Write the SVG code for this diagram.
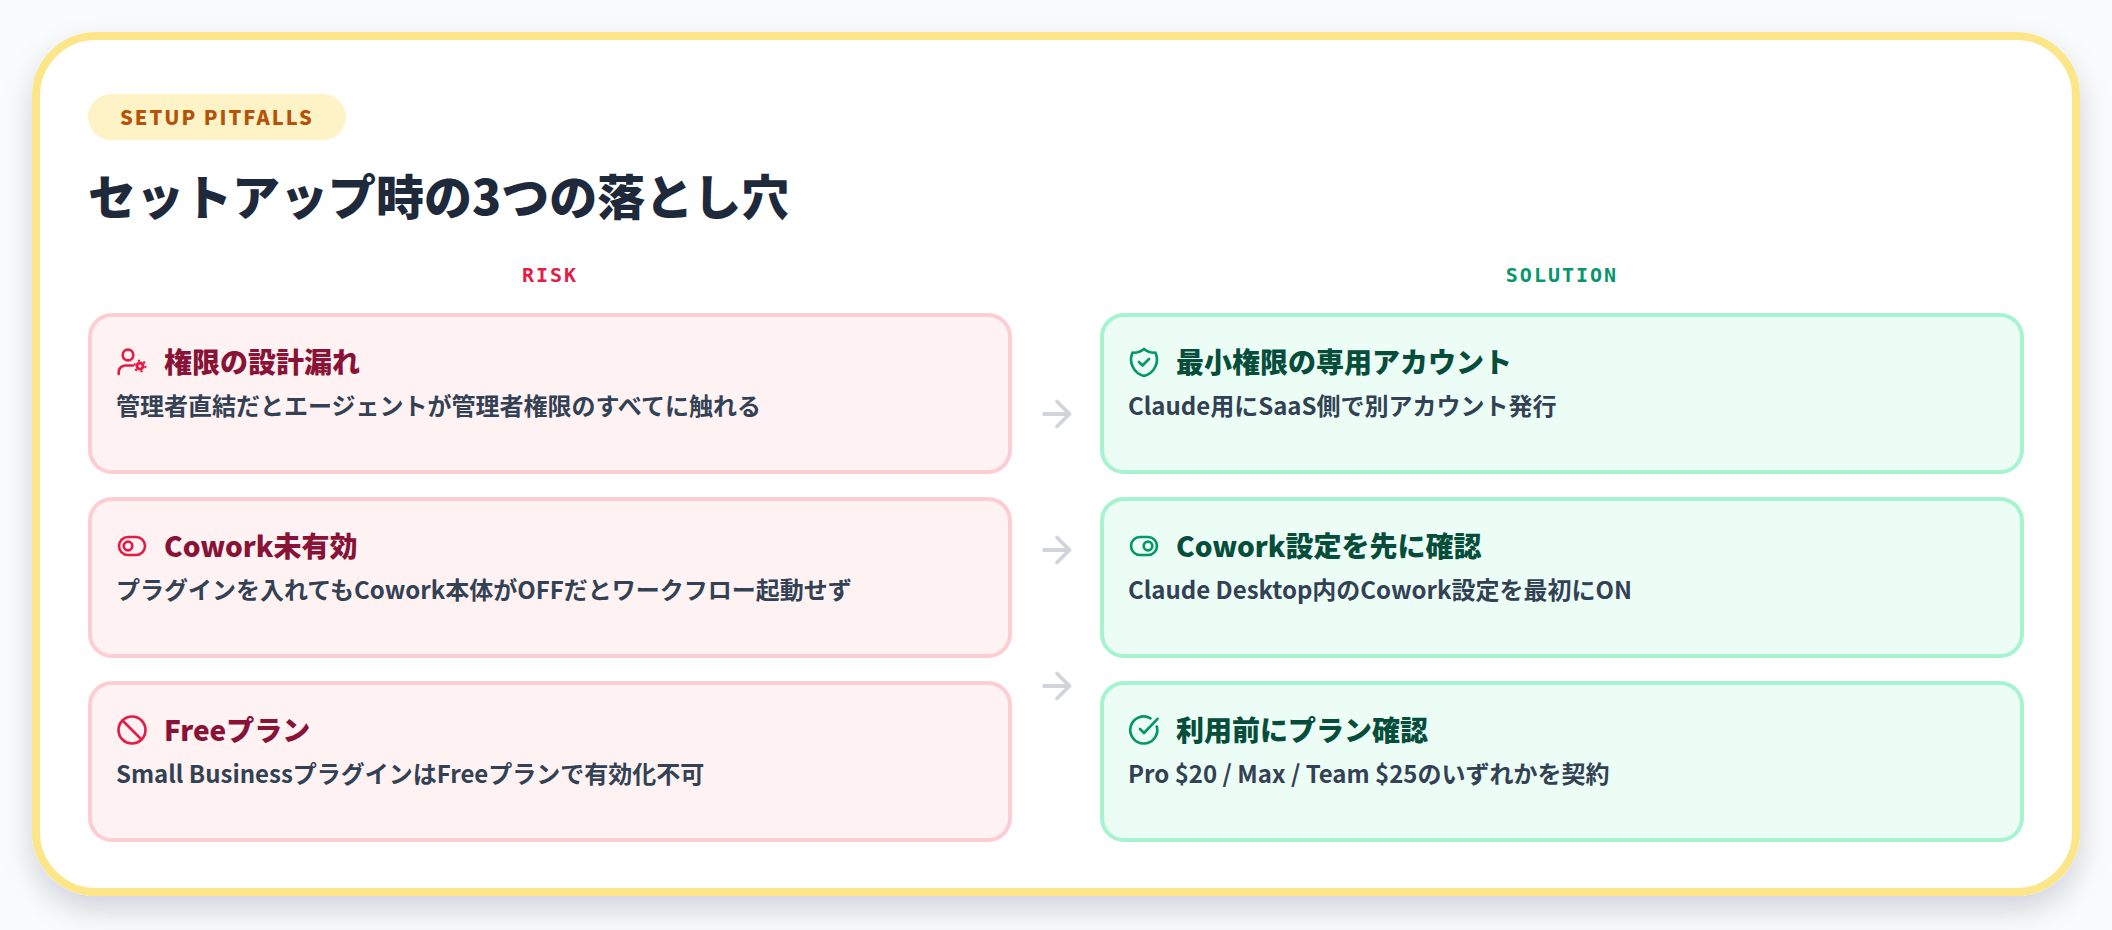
<svg xmlns="http://www.w3.org/2000/svg" width="2112" height="930" viewBox="0 0 2112 930">
<style>
text{font-family:"Noto Sans CJK JP","Noto Sans",sans-serif}
.risk>rect{fill:#fff2f3;stroke:#fecdd3;stroke-width:4}
.sol>rect{fill:#ecfdf5;stroke:#a7f3d0;stroke-width:4}
.risk .t{fill:#881337}
.sol .t{fill:#064e3b}
.t{font-size:28px;font-weight:900}
.d{font-size:24px;font-weight:700;fill:#334155}
.ic{fill:none;stroke-width:2.67;stroke-linecap:round;stroke-linejoin:round}
.risk .ic{stroke:#e11d48}
.sol .ic{stroke:#059669}
.h{font-family:"DejaVu Sans Mono",monospace;font-size:20px;font-weight:700;letter-spacing:2px;text-anchor:middle}
.arr{fill:none;stroke:#d1d5db;stroke-width:3.8;stroke-linecap:round;stroke-linejoin:round}
</style>
<defs>
<filter id="sh" x="-10%" y="-10%" width="120%" height="125%"><feDropShadow dx="0" dy="14" stdDeviation="15" flood-color="#111827" flood-opacity="0.16"/></filter>
</defs>
<rect width="2112" height="930" fill="#fafbfd"/>
<g id="panel">
<rect x="36" y="36" width="2040" height="856" rx="60" fill="#fff" stroke="#fde68a" stroke-width="8" filter="url(#sh)"/>
</g>
<g id="header">
<rect x="88" y="94" width="258" height="46" rx="23" fill="#fef3c7"/>
<text x="120" y="125" font-size="20" font-weight="900" letter-spacing="2" fill="#b45309">SETUP PITFALLS</text>
<text x="88" y="215" font-size="48" font-weight="900" fill="#1e293b">セットアップ時の3つの落とし穴</text>
<text class="h" x="550" y="282" fill="#e11d48">RISK</text>
<text class="h" x="1562" y="282" fill="#059669">SOLUTION</text>
</g>
<g id="connectors">
<path class="arr" d="M1044 414H1069M1057 401.500L1069.500 414L1057 426.500"/>
<path class="arr" d="M1044 550H1069M1057 537.500L1069.500 550L1057 562.500"/>
<path class="arr" d="M1044 686H1069M1057 673.500L1069.500 686L1057 698.500"/>
</g>
<g id="risk1" class="risk">
<rect x="90" y="315" width="920" height="157" rx="22"/>
<g class="ic" transform="translate(116,346)"><circle cx="12" cy="9" r="5.300"/><path d="M2.700 28V26A6.500 6.500 0 0 1 9 19.500H17"/><circle cx="24" cy="20" r="3" stroke-width="3"/><circle cx="24" cy="20" r="5.500" stroke-width="2" stroke-dasharray="2.300 3.460" stroke-linecap="butt"/></g>
<text class="t" x="164" y="373">権限の設計漏れ</text>
<text class="d" x="116" y="415">管理者直結だとエージェントが管理者権限のすべてに触れる</text>
</g>
<g id="risk2" class="risk">
<rect x="90" y="499" width="920" height="157" rx="22"/>
<g class="ic" transform="translate(116,530)"><rect x="3" y="7" width="26" height="18" rx="9"/><circle cx="12" cy="16" r="4.300"/></g>
<text class="t" x="164" y="557">Cowork未有効</text>
<text class="d" x="116" y="599">プラグインを入れてもCowork本体がOFFだとワークフロー起動せず</text>
</g>
<g id="risk3" class="risk">
<rect x="90" y="683" width="920" height="157" rx="22"/>
<g class="ic" transform="translate(116,714)"><circle cx="16" cy="16" r="13.500"/><path d="M6.500 6.500L25.500 25.500"/></g>
<text class="t" x="164" y="741">Freeプラン</text>
<text class="d" x="116" y="783">Small BusinessプラグインはFreeプランで有効化不可</text>
</g>
<g id="sol1" class="sol">
<rect x="1102" y="315" width="920" height="157" rx="22"/>
<g class="ic" transform="translate(1128,346)"><path d="M16 3A16 16 0 0 0 27.500 6.700A17 17 0 0 1 16 30A17 17 0 0 1 4.500 6.700A16 16 0 0 0 16 3Z"/><path d="M11 16L14.500 19.500L21 13"/></g>
<text class="t" x="1176" y="373">最小権限の専用アカウント</text>
<text class="d" x="1128" y="415">Claude用にSaaS側で別アカウント発行</text>
</g>
<g id="sol2" class="sol">
<rect x="1102" y="499" width="920" height="157" rx="22"/>
<g class="ic" transform="translate(1128,530)"><rect x="3" y="7" width="26" height="18" rx="9"/><circle cx="20" cy="16" r="4.300"/></g>
<text class="t" x="1176" y="557">Cowork設定を先に確認</text>
<text class="d" x="1128" y="599">Claude Desktop内のCowork設定を最初にON</text>
</g>
<g id="sol3" class="sol">
<rect x="1102" y="683" width="920" height="157" rx="22"/>
<g class="ic" transform="translate(1128,714)"><path d="M28.800 12.500A13.500 13.500 0 1 1 22.500 4.300"/><path d="M12 15L16 19L29.500 4.800"/></g>
<text class="t" x="1176" y="741">利用前にプラン確認</text>
<text class="d" x="1128" y="783">Pro $20 / Max / Team $25のいずれかを契約</text>
</g>
</svg>
